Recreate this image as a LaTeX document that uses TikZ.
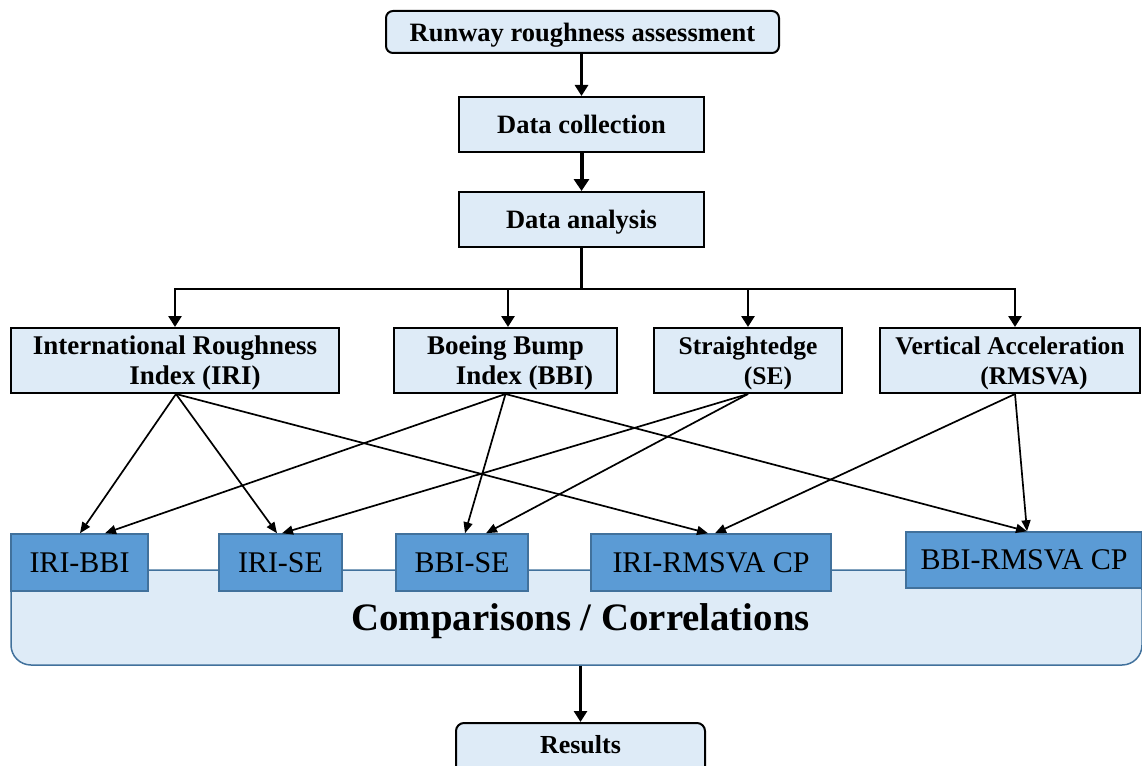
\documentclass[tikz,border=0pt]{standalone}
\usepackage{fontspec}
\setmainfont{Liberation Serif}
\usetikzlibrary{arrows.meta,calc}
\definecolor{lightbox}{HTML}{DEEBF7}
\definecolor{darkbox}{HTML}{5B9BD5}
\definecolor{darkborder}{HTML}{41719C}
\begin{document}
\begin{tikzpicture}[x=1pt,y=-1pt,
  lbox/.style={draw=black,line width=2pt,fill=lightbox,inner sep=0pt,align=center,text depth=0pt,
    font=\bfseries\fontsize{26.5}{30}\selectfont},
  mbox/.style={lbox,minimum height=65pt,font=\bfseries\fontsize{27}{30}\selectfont},
  nbox/.style={lbox,minimum height=65pt,font=\bfseries\fontsize{25.5}{30}\selectfont},
  cbox/.style={draw=darkborder,line width=1.5pt,fill=darkbox,inner sep=0pt,
    minimum height=57pt,font=\fontsize{30}{32}\selectfont},
  flow/.style={line width=2.7pt,-{Triangle[length=11pt,width=13pt]}},
  conn/.style={line width=1.7pt,-{Triangle[length=11pt,width=9pt]}}]
\useasboundingbox (0,0) rectangle (1142,765);
\clip (0,0) rectangle (1142,765);

% top chain
\node[lbox,rounded corners=7pt,minimum width=393pt,minimum height=42pt] (top) at (582.5,32) {Runway roughness assessment};
\node[lbox,minimum width=245pt,minimum height=55pt] (dc) at (581.5,124.5) {Data collection};
\node[lbox,minimum width=245pt,minimum height=55pt] (da) at (581.5,219.5) {Data analysis};
\draw[flow] (top.south -| dc.north) -- (dc.north);
\draw[line width=4pt,-{Triangle[length=12pt,width=15pt]}] (dc.south) -- (da.north);

% second level
\node[mbox,minimum width=328pt] (iri) at (175,360.5) {International Roughness\\\hspace*{40pt}Index (IRI)};
\node[mbox,minimum width=223pt] (bbi) at (505.5,360.5) {Boeing Bump\\\hspace*{38pt}Index (BBI)};
\node[nbox,minimum width=188pt] (se) at (748,360.5) {Straightedge\\\hspace*{40pt}(SE)};
\node[nbox,minimum width=260pt] (rmsva) at (1010,360.5) {Vertical Acceleration\\\hspace*{48pt}(RMSVA)};

\path (da.south) ++(0,41) coordinate (bus);
\draw[line width=2.7pt] (da.south) -- (bus);
\draw[flow] (bus) -| (iri.north);
\draw[flow] (bus) -| ([xshift=2.5pt]bbi.north);
\draw[flow] (bus) -| (se.north);
\draw[flow] (bus) -| ([xshift=5pt]rmsva.north);

% comparisons container
\node[draw=darkborder,line width=1.5pt,fill=lightbox,rounded corners=20pt,inner sep=0pt,
  minimum width=1131pt,minimum height=95pt] (comp) at (576.5,617.5) {};
\node[anchor=base,inner sep=0pt,font=\bfseries\fontsize{38.8}{42}\selectfont] (complabel) at (580.5,630) {Comparisons / Correlations};

% comparison boxes
\node[cbox,minimum width=137pt] (ib) at (79.5,562.5) {IRI-BBI};
\node[cbox,minimum width=123pt] (is) at (280.5,562.5) {IRI-SE};
\node[cbox,minimum width=132pt] (bs) at (462,562.5) {BBI-SE};
\node[cbox,minimum width=240pt] (ir) at (711,562.5) {IRI-RMSVA CP};
\node[cbox,minimum width=236pt,minimum height=56pt] (br) at (1024,560) {BBI-RMSVA CP};

% connectors
\draw[conn] ([xshift=1pt]iri.south) -- ([xshift=0.5pt]ib.north);
\draw[conn] (bbi.south) -- ([xshift=25.5pt]ib.north);
\draw[conn] ([xshift=1pt]iri.south) -- ([xshift=-3.5pt]is.north);
\draw[conn] (se.south) -- ([xshift=1.5pt]is.north);
\draw[conn] (bbi.south) -- ([xshift=3pt]bs.north);
\draw[conn] (se.south) -- ([xshift=24pt]bs.north);
\draw[conn] ([xshift=1pt]iri.south) -- ([xshift=-3pt]ir.north);
\draw[conn] ([xshift=5pt]rmsva.south) -- ([xshift=4pt]ir.north);
\draw[conn] (bbi.south) -- ([xshift=3pt]br.north);
\draw[conn] ([xshift=5pt]rmsva.south) -- ([xshift=3pt]br.north);

% results
\node[lbox,rounded corners=8pt,minimum width=249pt,minimum height=60pt,anchor=north] (res) at (580.5,722) {};
\node[anchor=base,inner sep=0pt,font=\bfseries\fontsize{26}{30}\selectfont] (restext) at (580.5,753) {Results};
\draw[flow] (res.north |- comp.south) -- (res.north);
\end{tikzpicture}
\end{document}
